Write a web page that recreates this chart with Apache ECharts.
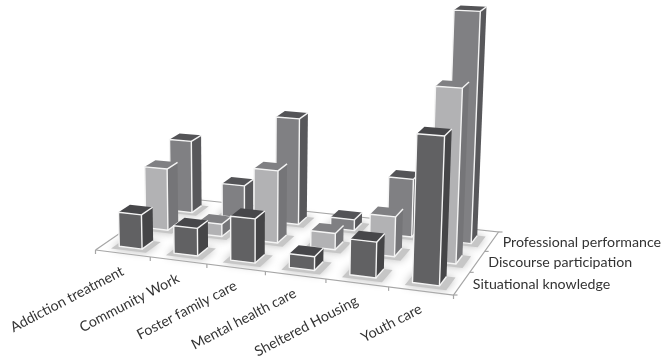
<!DOCTYPE html>
<html>
<head>
<meta charset="utf-8">
<style>html,body{margin:0;padding:0;background:#fff}#chart{width:663px;height:360px}</style>
<script src="https://cdn.jsdelivr.net/npm/echarts@6/dist/echarts.min.js"></script>
</head>
<body>
<div id="chart"></div>
<script>
// Categories along the front edge and rows running back into the scene
const categories = ['Addiction treatment', 'Community Work', 'Foster family care', 'Mental health care', 'Sheltered Housing', 'Youth care'];
const rows = ['Situational knowledge', 'Discourse participation', 'Professional performance'];

// Bar heights per row
const situational = [6.8, 5.4, 8.5, 2.6, 6.7, 27];
const discourse = [12.5, 2.5, 14.3, 3.2, 7.7, 32.7];
const professional = [15, 6.8, 21.5, 2.2, 11.5, 44.3];

// Colours per row: front, top, side
const palette = [
  { front: '#616163', top: '#47474a', side: '#454547' },
  { front: '#b2b2b4', top: '#808083', side: '#757578' },
  { front: '#808083', top: '#545457', side: '#58585b' }
];
const rowValues = [situational, discourse, professional];

// Camera: floor corners on screen plus the vanishing point of the vertical edges
const floor = { fl: [95.5, 250], fr: [453.5, 295], br: [498.5, 232], bl: [172.5, 197] };
const vanish = [245, 6000];
const unitLift = -5 / 5750;
const barSize = 0.42;

const camera = (function () {
  const [x0, y0] = floor.fl, [x1, y1] = floor.fr, [x2, y2] = floor.br, [x3, y3] = floor.bl;
  const dx1 = x1 - x2, dx2 = x3 - x2, sx = x0 - x1 + x2 - x3;
  const dy1 = y1 - y2, dy2 = y3 - y2, sy = y0 - y1 + y2 - y3;
  const den = dx1 * dy2 - dx2 * dy1;
  const g = (sx * dy2 - dx2 * sy) / den;
  const h = (dx1 * sy - sx * dy1) / den;
  return { a: x1 - x0 + g * x1, b: x3 - x0 + h * x3, c: x0, d: y1 - y0 + g * y1, e: y3 - y0 + h * y3, f: y0, g, h };
})();

// Scene coordinates: u in categories, v in rows, z in bar-height units
function project(u, v, z) {
  const s = u / categories.length, t = v / rows.length, m = camera, l = unitLift * z;
  const w = m.g * s + m.h * t + 1 + l;
  return [
    (m.a * s + m.b * t + m.c + l * vanish[0]) / w,
    (m.d * s + m.e * t + m.f + l * vanish[1]) / w
  ];
}

function footprint(cat, row) {
  const half = barSize / 2;
  return { u0: cat + 0.5 - half, u1: cat + 0.5 + half, v0: row + 0.5 - half, v1: row + 0.5 + half };
}

function renderBar(row) {
  return function (params, api) {
    const cat = api.value(0), z = api.value(1), c = palette[row], f = footprint(cat, row);
    const a0 = project(f.u0, f.v0, 0), b0 = project(f.u1, f.v0, 0), d0 = project(f.u1, f.v1, 0);
    const a1 = project(f.u0, f.v0, z), b1 = project(f.u1, f.v0, z), d1 = project(f.u1, f.v1, z), e1 = project(f.u0, f.v1, z);
    const white = { stroke: '#f4f4f4', lineWidth: 1.4, fill: null, lineJoin: 'round' };
    return {
      type: 'group',
      children: [
        { type: 'polygon', shape: { points: [b0, d0, d1, b1] }, style: { fill: c.side } },
        { type: 'polygon', shape: { points: [a1, b1, d1, e1] }, style: { fill: c.top } },
        { type: 'polygon', shape: { points: [a0, b0, b1, a1] }, style: { fill: c.front, stroke: '#f4f4f4', lineWidth: 1.4, lineJoin: 'round' } },
        { type: 'polyline', shape: { points: [b1, d1] }, style: white },
        { type: 'polyline', shape: { points: [b0, d0] }, style: white }
      ]
    };
  };
}

// Soft contact shadow on the floor, reaching out to the front and right of each bar
function renderShadow(row) {
  return function (params, api) {
    const f = footprint(api.value(0), row);
    const pts = [
      project(f.u0 - 0.08, f.v0 - 0.14, 0), project(f.u1 + 0.14, f.v0 - 0.14, 0),
      project(f.u1 + 0.14, f.v1, 0), project(f.u0 - 0.08, f.v1, 0)
    ];
    return {
      type: 'polygon',
      shape: { points: pts },
      style: { fill: '#c6c6c6', shadowBlur: 8, shadowColor: '#bdbdbd' }
    };
  };
}

// Floor outline with its ticks
function renderFloor(params, api) {
  const line = { stroke: '#a6a6a6', lineWidth: 1.2, fill: null };
  const n = categories.length, d = rows.length, children = [];
  children.push({
    type: 'polyline',
    shape: { points: [project(0, 0, 0), project(n, 0, 0), project(n, d, 0), project(0, d, 0), project(0, 0, 0)] },
    style: line
  });
  for (let i = 0; i <= n; i++) {
    const p = project(i, 0, 0);
    children.push({ type: 'line', shape: { x1: p[0], y1: p[1], x2: p[0], y2: p[1] + 4 }, style: line });
  }
  for (let j = 0; j <= d; j++) {
    const p = project(n, j, 0);
    children.push({ type: 'line', shape: { x1: p[0], y1: p[1], x2: p[0] + 4, y2: p[1] }, style: line });
  }
  return { type: 'group', children };
}

const labelStyle = { fill: '#333333', font: '14.2px Lato' };

function renderCategoryLabel(params, api) {
  const i = api.value(0), p = project(i + 0.5, 0, 0);
  return {
    type: 'text', x: p[0], y: p[1] + 17, rotation: 27.5 * Math.PI / 180,
    style: Object.assign({ text: categories[i], align: 'right', verticalAlign: 'middle' }, labelStyle)
  };
}

function renderRowLabel(params, api) {
  const j = api.value(0), p = project(categories.length, j + 0.5, 0);
  return {
    type: 'text', x: p[0] + 11, y: p[1] + 1,
    style: Object.assign({ text: rows[j], align: 'left', verticalAlign: 'middle' }, labelStyle)
  };
}

const series = [];
series.push({ type: 'custom', coordinateSystem: 'none', renderItem: renderFloor, data: [[0]], z: 1, silent: true });
[2, 1, 0].forEach(function (row) {
  series.push({
    type: 'custom', coordinateSystem: 'none', renderItem: renderShadow(row), z: 2, silent: true,
    data: rowValues[row].map((v, i) => [i, v])
  });
});
[2, 1, 0].forEach(function (row) {
  series.push({
    type: 'custom', name: rows[row], coordinateSystem: 'none', renderItem: renderBar(row), z: 3, silent: true,
    data: rowValues[row].map((v, i) => [i, v])
  });
});
series.push({ type: 'custom', coordinateSystem: 'none', renderItem: renderCategoryLabel, z: 4, silent: true, data: categories.map((c, i) => [i]) });
series.push({ type: 'custom', coordinateSystem: 'none', renderItem: renderRowLabel, z: 4, silent: true, data: rows.map((r, j) => [j]) });

const chart = echarts.init(document.getElementById('chart'), null, { renderer: 'canvas' });
chart.setOption({ animation: false, backgroundColor: '#fff', series });
</script>
</body>
</html>
